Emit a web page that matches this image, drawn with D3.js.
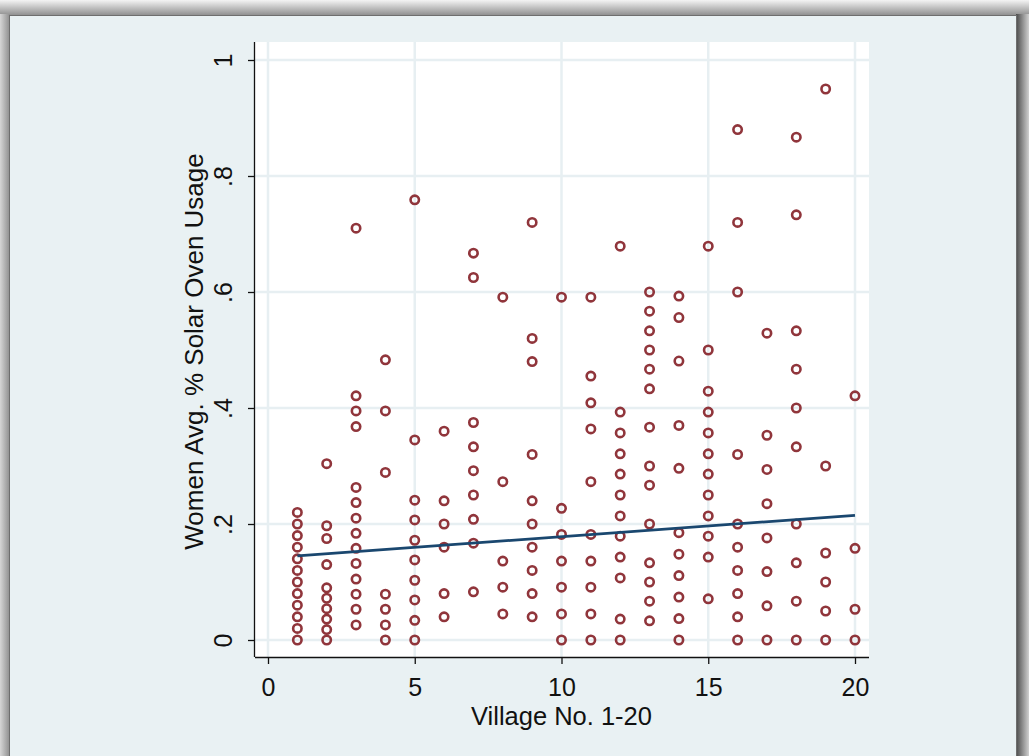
<!DOCTYPE html>
<html>
<head>
<meta charset="utf-8">
<script src="https://cdn.jsdelivr.net/npm/d3@7"></script>
<style>
  html, body { margin: 0; padding: 0; background: #ffffff; }
  svg { display: block; }
  text { font-family: "Liberation Sans", Arial, sans-serif; fill: #111; }
</style>
</head>
<body>
<svg id="chart" width="1029" height="756"></svg>
<script>
// Share of solar-oven use per woman, grouped by village (1-20)
const villages = d3.range(1, 21);
const usage = [
  /* 1 */ [0, 0.02, 0.04, 0.06, 0.08, 0.10, 0.12, 0.14, 0.16, 0.18, 0.20, 0.22],
  /* 2 */ [0, 0.018, 0.036, 0.054, 0.072, 0.09, 0.13, 0.175, 0.197, 0.304],
  /* 3 */ [0.026, 0.053, 0.079, 0.105, 0.132, 0.158, 0.184, 0.21, 0.237, 0.263, 0.368, 0.395, 0.421, 0.71],
  /* 4 */ [0, 0.026, 0.053, 0.079, 0.289, 0.395, 0.483],
  /* 5 */ [0, 0.034, 0.069, 0.103, 0.138, 0.172, 0.207, 0.241, 0.345, 0.759],
  /* 6 */ [0.04, 0.08, 0.16, 0.20, 0.24, 0.36],
  /* 7 */ [0.083, 0.167, 0.208, 0.25, 0.292, 0.333, 0.375, 0.625, 0.667],
  /* 8 */ [0.045, 0.091, 0.136, 0.273, 0.591],
  /* 9 */ [0.04, 0.08, 0.12, 0.16, 0.20, 0.24, 0.32, 0.48, 0.52, 0.72],
  /*10 */ [0, 0.045, 0.091, 0.136, 0.182, 0.227, 0.591],
  /*11 */ [0, 0.045, 0.091, 0.136, 0.182, 0.273, 0.364, 0.409, 0.455, 0.591],
  /*12 */ [0, 0.036, 0.107, 0.143, 0.179, 0.214, 0.25, 0.286, 0.321, 0.357, 0.393, 0.679],
  /*13 */ [0.033, 0.067, 0.10, 0.133, 0.20, 0.267, 0.30, 0.367, 0.433, 0.467, 0.50, 0.533, 0.567, 0.60],
  /*14 */ [0, 0.037, 0.074, 0.111, 0.148, 0.185, 0.296, 0.37, 0.481, 0.556, 0.593],
  /*15 */ [0.071, 0.143, 0.179, 0.214, 0.25, 0.286, 0.321, 0.357, 0.393, 0.429, 0.50, 0.679],
  /*16 */ [0, 0.04, 0.08, 0.12, 0.16, 0.20, 0.32, 0.60, 0.72, 0.88],
  /*17 */ [0, 0.059, 0.118, 0.176, 0.235, 0.294, 0.353, 0.529],
  /*18 */ [0, 0.067, 0.133, 0.20, 0.333, 0.40, 0.467, 0.533, 0.733, 0.867],
  /*19 */ [0, 0.05, 0.10, 0.15, 0.30, 0.95],
  /*20 */ [0, 0.053, 0.158, 0.421]
];

// Linear fit of usage on village number, evaluated at the ends of the range
const fitVillage = [1, 20];
const fitValue = [0.145, 0.215];

const xTicks = [0, 5, 10, 15, 20];
const yTicks = [0, 0.2, 0.4, 0.6, 0.8, 1];
const yTickLabels = ["0", ".2", ".4", ".6", ".8", "1"];

const xTitle = "Village No. 1-20";
const yTitle = "Women Avg. % Solar Oven Usage";

const W = 1029, H = 756;
const svg = d3.select("#chart");
const defs = svg.append("defs");

// ---- window frame with soft shadow ----
const gTop = defs.append("linearGradient").attr("id", "gTop").attr("x1", 0).attr("y1", 0).attr("x2", 0).attr("y2", 1);
gTop.append("stop").attr("offset", "0%").attr("stop-color", "#f4f4f4");
gTop.append("stop").attr("offset", "100%").attr("stop-color", "#8a8a8a");
const gLeft = defs.append("linearGradient").attr("id", "gLeft").attr("x1", 0).attr("y1", 0).attr("x2", 1).attr("y2", 0);
gLeft.append("stop").attr("offset", "0%").attr("stop-color", "#d6d6d6");
gLeft.append("stop").attr("offset", "100%").attr("stop-color", "#8c8c8c");
const gRight = defs.append("linearGradient").attr("id", "gRight").attr("x1", 0).attr("y1", 0).attr("x2", 1).attr("y2", 0);
gRight.append("stop").attr("offset", "0%").attr("stop-color", "#4a4a4a");
gRight.append("stop").attr("offset", "100%").attr("stop-color", "#d0d0d0");

svg.append("rect").attr("width", W).attr("height", H).attr("fill", "#cfcfcf");
svg.append("rect").attr("x", 0).attr("y", 0).attr("width", W).attr("height", 16).attr("fill", "url(#gTop)");
svg.append("rect").attr("x", 0).attr("y", 14).attr("width", 10).attr("height", H - 14).attr("fill", "url(#gLeft)");
svg.append("rect").attr("x", 1016).attr("y", 14).attr("width", 13).attr("height", H - 14).attr("fill", "url(#gRight)");

// graph region
svg.append("rect")
  .attr("x", 9.5).attr("y", 15.5).attr("width", 1007).attr("height", H - 15)
  .attr("fill", "#e9f1f3").attr("stroke", "#6e6e6e").attr("stroke-width", 1);

// ---- plot region ----
const plot = { left: 255, right: 869, top: 42, bottom: 657 };
svg.append("rect")
  .attr("x", plot.left).attr("y", plot.top)
  .attr("width", plot.right - plot.left).attr("height", plot.bottom - plot.top)
  .attr("fill", "#ffffff");

const x = d3.scaleLinear().domain([0, 20]).range([268, 855]);
const y = d3.scaleLinear().domain([0, 1]).range([640, 60]);

const gridColor = "#e7eff2";
svg.append("g").selectAll("line").data(xTicks).join("line")
  .attr("x1", d => x(d)).attr("x2", d => x(d))
  .attr("y1", plot.top).attr("y2", plot.bottom)
  .attr("stroke", gridColor).attr("stroke-width", 2.5);
svg.append("g").selectAll("line").data(yTicks).join("line")
  .attr("x1", plot.left).attr("x2", plot.right)
  .attr("y1", d => y(d)).attr("y2", d => y(d))
  .attr("stroke", gridColor).attr("stroke-width", 2.5);

// ---- axes ----
const labelFont = "25px";
const xAxis = d3.axisBottom(x).tickValues(xTicks).tickSize(7).tickPadding(6).tickSizeOuter(0);
const gx = svg.append("g").attr("transform", `translate(0,${plot.bottom})`).call(xAxis);
gx.select(".domain").attr("d", `M${plot.left},0.5H${plot.right}`).attr("stroke", "#111").attr("stroke-width", 1.3);
gx.selectAll(".tick line").attr("stroke", "#111").attr("stroke-width", 1.3);
gx.selectAll(".tick text")
  .attr("y", null).attr("dy", null)
  .attr("transform", "translate(0,39)")
  .style("font-family", "'Liberation Sans', Arial, sans-serif")
  .style("font-size", labelFont).attr("fill", "#111");

const yAxis = d3.axisLeft(y).tickValues(yTicks).tickSize(7).tickSizeOuter(0)
  .tickFormat((d, i) => yTickLabels[i]);
const gy = svg.append("g").attr("transform", `translate(${plot.left},0)`).call(yAxis);
gy.select(".domain").attr("d", `M-0.5,${plot.top}V${plot.bottom}`).attr("stroke", "#111").attr("stroke-width", 1.3);
gy.selectAll(".tick line").attr("stroke", "#111").attr("stroke-width", 1.3);
gy.selectAll(".tick text")
  .attr("x", null).attr("dy", null)
  .attr("text-anchor", "middle")
  .attr("transform", "translate(-23,0) rotate(-90)")
  .style("font-family", "'Liberation Sans', Arial, sans-serif")
  .style("font-size", labelFont).attr("fill", "#111");

// axis titles
svg.append("text")
  .attr("x", x(10)).attr("y", 725)
  .attr("text-anchor", "middle")
  .style("font-size", "25.5px")
  .text(xTitle);
svg.append("text")
  .attr("transform", `translate(203,${(plot.top + plot.bottom) / 2 + 2}) rotate(-90)`)
  .attr("text-anchor", "middle")
  .style("font-size", "26px")
  .text(yTitle);

// ---- observations ----
const points = usage.flatMap((vals, i) => vals.map(v => ({ village: villages[i], value: v })));
svg.append("g").selectAll("circle").data(points).join("circle")
  .attr("cx", d => x(d.village)).attr("cy", d => y(d.value))
  .attr("r", 4.2)
  .attr("fill", "none").attr("stroke", "#90353b").attr("stroke-width", 2.6);

// ---- fitted line ----
const fit = fitVillage.map((v, i) => [v, fitValue[i]]);
svg.append("path")
  .datum(fit)
  .attr("d", d3.line().x(d => x(d[0])).y(d => y(d[1])))
  .attr("fill", "none").attr("stroke", "#1a476f").attr("stroke-width", 2.8);
</script>
</body>
</html>
